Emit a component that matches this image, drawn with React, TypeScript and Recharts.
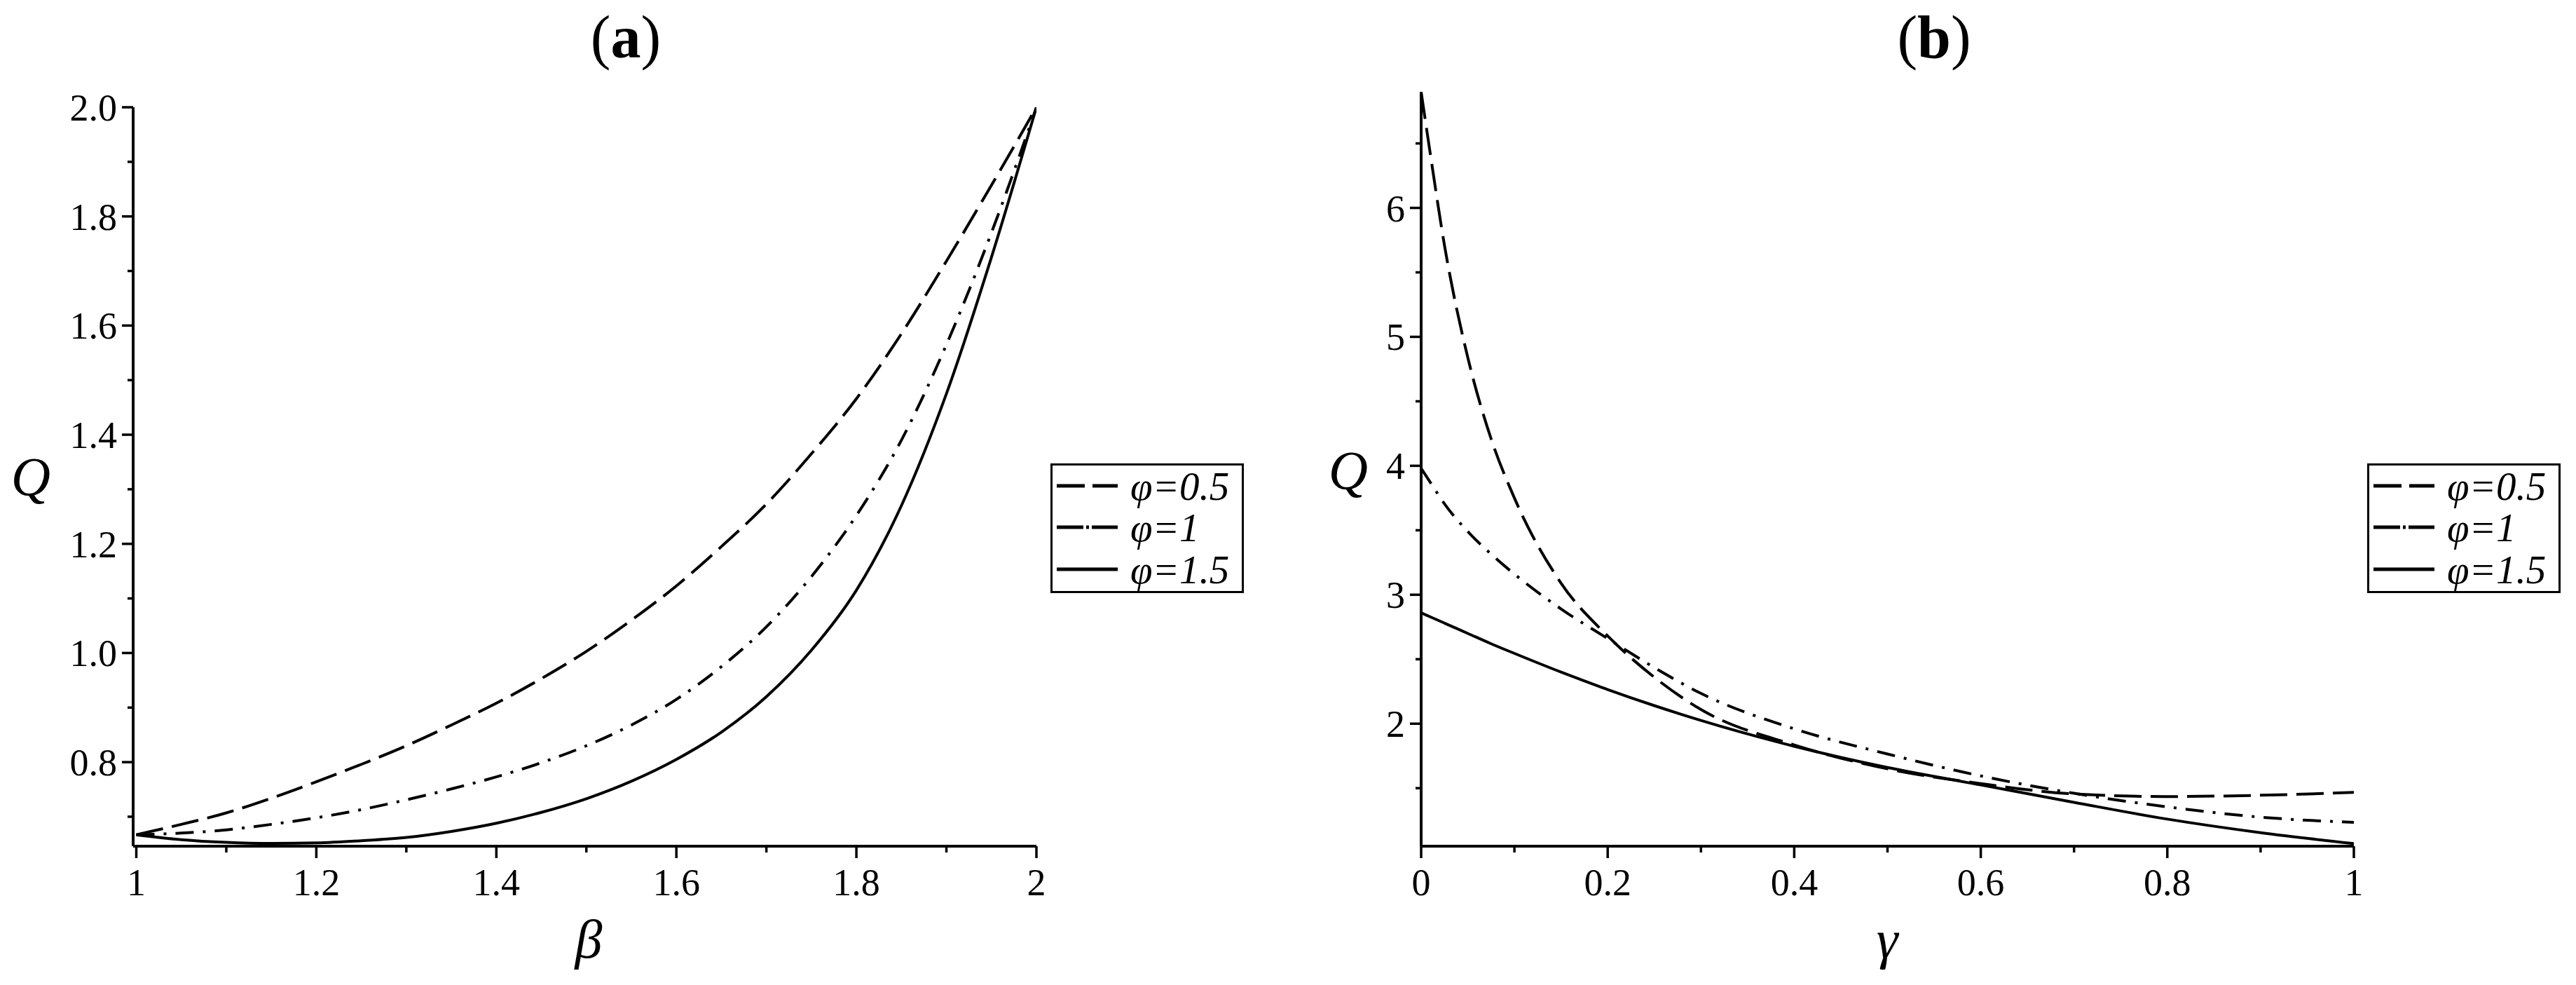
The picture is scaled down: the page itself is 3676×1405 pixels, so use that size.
import React from 'react';
import { LineChart, Line, XAxis, YAxis, Legend } from 'recharts';

// ---------- Panel (a): Q vs beta ----------
const betaValues = [1.0, 1.05, 1.1, 1.15, 1.2, 1.25, 1.3, 1.35, 1.4, 1.45, 1.5, 1.55, 1.6, 1.65, 1.7, 1.75, 1.8, 1.85, 1.9, 1.95, 2.0];
const qBetaPhi05 = [0.667, 0.686, 0.707, 0.734, 0.764, 0.796, 0.83, 0.868, 0.908, 0.953, 1.003, 1.06, 1.123, 1.195, 1.273, 1.365, 1.466, 1.585, 1.718, 1.857, 2.0];
const qBetaPhi1 = [0.667, 0.67, 0.676, 0.686, 0.698, 0.713, 0.731, 0.751, 0.773, 0.799, 0.83, 0.868, 0.915, 0.975, 1.048, 1.14, 1.252, 1.39, 1.565, 1.77, 2.0];
const qBetaPhi15 = [0.667, 0.658, 0.653, 0.651, 0.652, 0.656, 0.662, 0.673, 0.688, 0.708, 0.733, 0.765, 0.805, 0.855, 0.92, 1.005, 1.115, 1.27, 1.475, 1.725, 2.0];

// ---------- Panel (b): Q vs gamma ----------
const gammaValues = [0, 0.01, 0.025, 0.05, 0.075, 0.1, 0.15, 0.2, 0.25, 0.3, 0.4, 0.5, 0.6, 0.7, 0.8, 0.9, 1.0];
const qGammaPhi05 = [6.9, 6.41, 5.71, 4.84, 4.21, 3.75, 3.09, 2.68, 2.36, 2.11, 1.835, 1.65, 1.535, 1.455, 1.435, 1.445, 1.467];
const qGammaPhi1 = [3.98, 3.87, 3.705, 3.49, 3.315, 3.16, 2.89, 2.66, 2.435, 2.235, 1.96, 1.765, 1.595, 1.46, 1.355, 1.275, 1.235];
const qGammaPhi15 = [2.86, 2.828, 2.78, 2.7, 2.62, 2.545, 2.4, 2.265, 2.14, 2.025, 1.825, 1.66, 1.525, 1.39, 1.26, 1.155, 1.07];

// ---------- Ticks ----------
const xMajorA = [1, 1.2, 1.4, 1.6, 1.8, 2];
const xMinorA = [1.1, 1.3, 1.5, 1.7, 1.9];
const xLabelsA = ['1', '1.2', '1.4', '1.6', '1.8', '2'];
const yMajorA = [0.8, 1.0, 1.2, 1.4, 1.6, 1.8, 2.0];
const yMinorA = [0.7, 0.9, 1.1, 1.3, 1.5, 1.7, 1.9];
const yLabelsA = ['0.8', '1.0', '1.2', '1.4', '1.6', '1.8', '2.0'];

const xMajorB = [0, 0.2, 0.4, 0.6, 0.8, 1];
const xMinorB = [0.1, 0.3, 0.5, 0.7, 0.9];
const xLabelsB = ['0', '0.2', '0.4', '0.6', '0.8', '1'];
const yMajorB = [2, 3, 4, 5, 6];
const yMinorB = [1.5, 2.5, 3.5, 4.5, 5.5, 6.5];
const yLabelsB = ['2', '3', '4', '5', '6'];

// ---------- Series ----------
const seriesKeys = ['q05', 'q1', 'q15'];
const seriesNames = ['φ=0.5', 'φ=1', 'φ=1.5'];
const seriesDash = ['39 13', '26 13 4 13', undefined];
const legendDash = ['40 11', '38 4 4 4', undefined];

const FONT = "'Liberation Serif', 'Times New Roman', serif";

const dataA = betaValues.map((b, i) => ({ x: b, q05: qBetaPhi05[i], q1: qBetaPhi1[i], q15: qBetaPhi15[i] }));
const dataB = gammaValues.map((g, i) => ({ x: g, q05: qGammaPhi05[i], q1: qGammaPhi1[i], q15: qGammaPhi15[i] }));

const sortNum = (a: number[]) => [...a].sort((p, q) => p - q);

function findMajor(majors: number[], v: number) {
  return majors.findIndex((m) => Math.abs(m - v) < 1e-6);
}

function makeXTick(majors: number[], labels: string[]) {
  return (props: any) => {
    const { x, y, payload } = props;
    const idx = findMajor(majors, payload.value);
    const major = idx >= 0;
    return (
      <g>
        <line x1={x} y1={y} x2={x} y2={y + (major ? 17 : 9)} stroke="#000" strokeWidth={3.5} />
        {major && (
          <text x={x} y={y + 70} textAnchor="middle" fontFamily={FONT} fontSize={54} fill="#000">
            {labels[idx]}
          </text>
        )}
      </g>
    );
  };
}

function makeYTick(majors: number[], labels: string[]) {
  return (props: any) => {
    const { x, y, payload } = props;
    const idx = findMajor(majors, payload.value);
    const major = idx >= 0;
    return (
      <g>
        <line x1={x} y1={y} x2={x - (major ? 16 : 8)} y2={y} stroke="#000" strokeWidth={3.5} />
        {major && (
          <text x={x - 23} y={y + 19} textAnchor="end" fontFamily={FONT} fontSize={54} fill="#000">
            {labels[idx]}
          </text>
        )}
      </g>
    );
  };
}

function LegendBox() {
  const rows = [32, 91, 151];
  return (
    <svg width={276} height={185} style={{ display: 'block' }}>
      <rect x={1.5} y={1.5} width={273} height={182} fill="#fff" stroke="#000" strokeWidth={3} />
      {seriesNames.map((name, i) => (
        <g key={name}>
          <line
            x1={9}
            y1={rows[i]}
            x2={96}
            y2={rows[i]}
            stroke="#000"
            strokeWidth={5}
            strokeDasharray={legendDash[i]}
          />
          <text x={114} y={rows[i] + 20} fontFamily={FONT} fontStyle="italic" fontSize={57} fill="#000">
            {name}
          </text>
        </g>
      ))}
    </svg>
  );
}

function Panel(props: {
  data: any[];
  width: number;
  margin: any;
  xDomain: number[];
  yDomain: number[];
  xTicks: number[];
  yTicks: number[];
  xTick: any;
  yTick: any;
  legendLeft: number;
}) {
  const { data, width, margin, xDomain, yDomain, xTicks, yTicks, xTick, yTick, legendLeft } = props;
  return (
    <LineChart width={width} height={1405} data={data} margin={margin}>
      <XAxis
        type="number"
        dataKey="x"
        domain={xDomain}
        ticks={xTicks}
        interval={0}
        tickSize={0}
        tickMargin={0}
        tickLine={false}
        tick={xTick}
        height={60}
        axisLine={{ stroke: '#000', strokeWidth: 4 }}
        allowDataOverflow
      />
      <YAxis
        type="number"
        domain={yDomain}
        ticks={yTicks}
        interval={0}
        tickSize={0}
        tickMargin={0}
        tickLine={false}
        tick={yTick}
        width={100}
        axisLine={{ stroke: '#000', strokeWidth: 4 }}
        allowDataOverflow
      />
      {seriesKeys.map((k, i) => (
        <Line
          key={k}
          type="monotone"
          dataKey={k}
          name={seriesNames[i]}
          stroke="#000"
          strokeWidth={4}
          strokeDasharray={seriesDash[i]}
          dot={false}
          activeDot={false}
          isAnimationActive={false}
        />
      ))}
      <Legend
        layout="vertical"
        align="center"
        verticalAlign="middle"
        wrapperStyle={{ left: legendLeft, top: 661, width: 276, height: 185 }}
        content={() => <LegendBox />}
      />
    </LineChart>
  );
}

export default function App() {
  return (
    <div
      style={{
        position: 'absolute',
        left: 0,
        top: 0,
        width: 3676,
        height: 1405,
        background: '#fff',
        overflow: 'hidden',
      }}
    >
      <div style={{ position: 'absolute', left: 0, top: 0 }}>
        <Panel
          data={dataA}
          width={1840}
          margin={{ top: 153, right: 361, bottom: 138, left: 90 }}
          xDomain={[0.9965, 2]}
          yDomain={[0.646, 2.0]}
          xTicks={sortNum([...xMajorA, ...xMinorA])}
          yTicks={sortNum([...yMajorA, ...yMinorA])}
          xTick={makeXTick(xMajorA, xLabelsA)}
          yTick={makeYTick(yMajorA, yLabelsA)}
          legendLeft={1499}
        />
      </div>
      <div style={{ position: 'absolute', left: 1840, top: 0 }}>
        <Panel
          data={dataB}
          width={1836}
          margin={{ top: 131, right: 317, bottom: 138, left: 88 }}
          xDomain={[0, 1]}
          yDomain={[1.05, 6.9]}
          xTicks={sortNum([...xMajorB, ...xMinorB])}
          yTicks={sortNum([...yMajorB, ...yMinorB])}
          xTick={makeXTick(xMajorB, xLabelsB)}
          yTick={makeYTick(yMajorB, yLabelsB)}
          legendLeft={1538}
        />
      </div>
      <svg
        width={3676}
        height={1405}
        style={{ position: 'absolute', left: 0, top: 0, pointerEvents: 'none' }}
      >
        <text x={893} y={82} textAnchor="middle" fontFamily={FONT} fontSize={86} fill="#000">
          (<tspan fontWeight="bold">a</tspan>)
        </text>
        <text x={2760} y={82} textAnchor="middle" fontFamily={FONT} fontSize={86} fill="#000">
          (<tspan fontWeight="bold">b</tspan>)
        </text>
        <text x={44} y={706} textAnchor="middle" fontFamily={FONT} fontStyle="italic" fontSize={78} fill="#000">
          Q
        </text>
        <text x={1924} y={697} textAnchor="middle" fontFamily={FONT} fontStyle="italic" fontSize={78} fill="#000">
          Q
        </text>
        <text x={840} y={1366} textAnchor="middle" fontFamily={FONT} fontStyle="italic" fontSize={78} fill="#000">
          β
        </text>
        <text x={2693} y={1366} textAnchor="middle" fontFamily={FONT} fontStyle="italic" fontSize={78} fill="#000">
          γ
        </text>
      </svg>
    </div>
  );
}
